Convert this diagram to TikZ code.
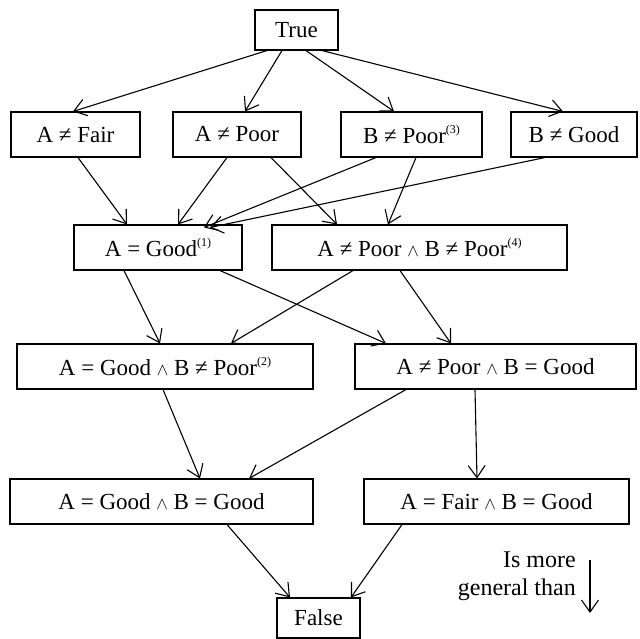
\documentclass[tikz,border=0pt]{standalone}
\usepackage{fontspec}
\setmainfont{Liberation Serif}
\usetikzlibrary{arrows.meta}
\newcommand\mysup[1]{\raisebox{10pt}{\fontsize{12}{12}\selectfont(#1)}}
\newcommand\myand{{\fontsize{19}{19}\selectfont$\wedge$}}
\begin{document}
\begin{tikzpicture}[x=1pt,y=-1pt,
  box/.style={draw,line width=1.1pt,inner sep=0pt,minimum height=45pt,font=\fontsize{23}{26}\selectfont},
  arr/.style={line width=1.1pt,-{Straight Barb[length=12pt,width=17pt,line width=1.1pt]}}]
\useasboundingbox (0,0) rectangle (640,639);
\node[box,minimum width=83pt,minimum height=40pt] (T) at (296.5,30) {True};
\node[box,minimum width=129pt] (AF) at (75.5,134.5) {A ≠ Fair};
\node[box,minimum width=128pt] (AP) at (237,134.5) {A ≠ Poor};
\node[box,minimum width=141pt] (BP) at (411.5,134.5) {B ≠ Poor\mysup{3}};
\node[box,minimum width=126pt] (BG) at (574,134.5) {B ≠ Good};
\node[box,minimum width=168pt] (AG) at (158,247.5) {A = Good\mysup{1}};
\node[box,minimum width=295pt] (APBP) at (419.5,247.5) {A ≠ Poor \myand{} B ≠ Poor\mysup{4}};
\node[box,minimum width=296pt] (AGBP) at (165,366.5) {A = Good \myand{} B ≠ Poor\mysup{2}};
\node[box,minimum width=281pt] (APBG) at (495.5,366.5) {A ≠ Poor \myand{} B = Good};
\node[box,minimum width=303pt] (AGBG) at (161.5,501.5) {A = Good \myand{} B = Good};
\node[box,minimum width=265pt] (AFBG) at (496.5,501.5) {A = Fair \myand{} B = Good};
\node[box,minimum width=83pt,minimum height=40pt] (F) at (318.5,618) {False};
\node[align=right,anchor=east,inner sep=0pt,font=\fontsize{24}{28}\selectfont] (L) at (576,576) {Is more\\general than};
\coordinate (la) at (590,560);
\coordinate (lb) at (590,613);
\draw[arr] (la) -- (lb);
% row 0 -> row 1
\draw[arr] ([xshift=-29.5pt]T.south) -- ([xshift=-2.5pt]AF.north);
\draw[arr] ([xshift=-14.5pt]T.south) -- ([xshift=8pt]AP.north);
\draw[arr] ([xshift=9.5pt]T.south) -- ([xshift=-17.5pt]BP.north);
\draw[arr] ([xshift=25.5pt]T.south) -- ([xshift=-11pt]BG.north);
% row 1 -> row 2
\draw[arr] ([xshift=2.5pt]AF.south) -- ([xshift=-31pt]AG.north);
\draw[arr] ([xshift=-10pt]AP.south) -- ([xshift=20pt]AG.north);
\draw[arr] ([xshift=34pt]AP.south) -- ([xshift=-82.5pt]APBP.north);
\draw[arr] ([xshift=-35.5pt]BP.south) -- ([xshift=46pt,yshift=-3pt]AG.north);
\draw[arr] ([xshift=4.5pt]BP.south) -- ([xshift=-31.5pt]APBP.north);
\draw[arr] ([xshift=-29pt]BG.south) -- ([xshift=52pt,yshift=-3pt]AG.north);
% row 2 -> row 3
\draw[arr] ([xshift=-34pt]AG.south) -- ([xshift=-5pt]AGBP.north);
\draw[arr] ([xshift=62pt]AG.south) -- ([xshift=-109.5pt]APBG.north);
\draw[arr] ([xshift=-66.5pt]APBP.south) -- ([xshift=66pt]AGBP.north);
\draw[arr] ([xshift=-19.5pt]APBP.south) -- ([xshift=-44.5pt]APBG.north);
% row 3 -> row 4
\draw[arr] ([xshift=-2pt]AGBP.south) -- ([xshift=38.5pt]AGBG.north);
\draw[arr] ([xshift=-89.5pt]APBG.south) -- ([xshift=87.5pt]AGBG.north);
\draw[arr] ([xshift=-20.5pt]APBG.south) -- ([xshift=-19.5pt]AFBG.north);
% row 4 -> False
\draw[arr] ([xshift=65.5pt]AGBG.south) -- ([xshift=-28.5pt]F.north);
\draw[arr] ([xshift=-94.5pt]AFBG.south) -- ([xshift=32.5pt]F.north);
\end{tikzpicture}
\end{document}
